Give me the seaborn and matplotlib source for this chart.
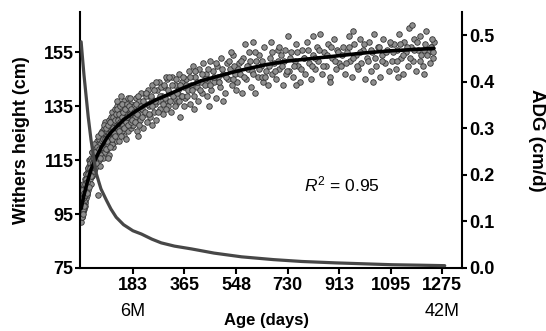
import matplotlib
matplotlib.use('Agg')
import matplotlib.pyplot as plt
import pandas as pd
import seaborn as sns

# scatter: age (days) and withers height (cm)
age_days = [
    0, 1, 2, 2, 3, 4, 5, 5, 6, 7, 8, 8, 9, 10, 10, 11, 12, 13, 14, 14, 15, 16, 17, 18, 18,
    19, 20, 21, 22, 23, 24, 25, 26, 27, 28, 28, 29, 30, 3, 6, 9, 12, 15, 18, 21, 24, 27, 30, 1, 4,
    31, 32, 33, 34, 35, 36, 37, 38, 39, 40, 41, 42, 43, 44, 45, 46, 47, 48, 49, 50, 52, 53, 54, 55,
    56, 57, 58, 59, 60, 61, 62, 64, 65, 66, 68, 69, 70, 72, 73, 75, 76, 78, 79, 80, 82, 83, 85, 86, 88, 90,
    91, 93, 94, 96, 97, 99, 100, 102, 104, 105, 107, 108, 110, 112, 113, 115, 117, 118, 120, 122,
    124, 125, 127, 129, 130, 132, 134, 136, 138, 140, 142, 144, 146, 148, 150, 152, 155, 157, 160,
    162, 165, 167, 170, 172, 175, 177, 180, 182, 95, 110, 125, 140, 160, 175,
    185, 188, 191, 195, 198, 202, 205, 208, 212, 215, 219, 222, 226, 230, 233, 237, 240, 244, 248,
    252, 256, 260, 264, 268, 272, 276, 280, 285, 290, 294, 298, 303, 308, 312, 317, 322, 327, 332,
    337, 342, 347, 352, 357, 362, 365, 200, 250, 300, 350,
    368, 372, 377, 381, 386, 390, 395, 399, 404, 408, 413, 417, 422, 426, 431, 436, 440, 445, 450,
    455, 460, 465, 470, 475, 480, 485, 490, 496, 502, 508, 514, 520, 526, 532, 538, 544, 548,
    400, 453, 500, 530,
    552, 557, 562, 568, 573, 578, 583, 588, 594, 599, 604, 609, 613, 618, 624, 630, 636, 642, 648,
    654, 660, 666, 670, 676, 682, 688, 694, 700, 706, 712, 718, 724, 730, 590, 640, 700,
    736, 742, 748, 755, 761, 767, 773, 780, 786, 792, 799, 805, 812, 818, 825, 832, 838, 843, 850,
    857, 864, 871, 878, 885, 892, 899, 906, 913, 760, 820, 880,
    919, 925, 932, 938, 945, 951, 958, 964, 971, 977, 984, 990, 997, 1003, 1010, 1016, 1023, 1029,
    1036, 1042, 1049, 1055, 1062, 1068, 1075, 1081, 1088, 1095, 960, 1030,
    1100, 1106, 1112, 1118, 1124, 1130, 1136, 1142, 1148, 1154, 1160, 1166, 1172, 1178, 1184, 1190,
    1196, 1202, 1208, 1214, 1220, 1226, 1232, 1238, 1244, 1247, 1120, 1170, 1210, 1240,
    # second pass, points closer to the fitted line
    0, 1, 2, 3, 4, 5, 6, 7, 8, 9, 11, 13, 15, 17, 19, 22, 25, 28,
    32, 35, 38, 41, 44, 47, 50, 53, 56, 59, 63, 67, 71, 74, 77, 81, 84, 87, 89,
    92, 95, 98, 101, 103, 106, 109, 111, 114, 116, 119, 121, 123, 126, 128, 131, 133, 135, 137, 139,
    141, 143, 145, 147, 149, 151, 153, 156, 158, 161, 163, 166, 168, 171, 173, 176, 178, 181,
    186, 190, 194, 197, 201, 204, 210, 214, 218, 224, 228, 235, 239, 246, 250, 258, 262, 266, 270, 278,
    282, 288, 292, 296, 301, 306, 310, 315, 320, 325, 330, 335, 340, 345, 350, 355, 360,
    370, 375, 384, 392, 402, 410, 420, 428, 438, 447, 457, 468, 478, 488, 499, 511, 523, 535, 541,
    555, 565, 575, 585, 597, 607, 616, 627, 639, 651, 663, 673, 685, 697, 709, 721, 727,
    739, 752, 764, 776, 789, 802, 815, 828, 841, 854, 868, 882, 896, 909,
    922, 935, 948, 961, 974, 987, 1000, 1013, 1026, 1039, 1052, 1065, 1078, 1091,
    1103, 1115, 1127, 1139, 1151, 1163, 1175, 1187, 1199, 1211, 1223, 1235, 1245,
]
withers_cm = [
    92, 95, 99, 101, 97, 94, 100, 103, 98, 96, 102, 105, 99, 97, 104, 101, 108, 100, 103, 106, 99,
    107, 104, 101, 110, 105, 103, 109, 106, 112, 104, 108, 111, 106, 113, 109, 107, 111, 98, 96, 100,
    103, 98, 110, 102, 112, 115, 115, 104, 103,
    108, 114, 111, 106, 116, 112, 109, 115, 113, 118, 110, 116, 113, 119, 111, 117, 114, 120, 112, 115,
    118, 121, 113, 116, 122, 114, 119, 117, 102, 121, 115, 123, 118, 113, 121, 125, 117, 122, 119, 126,
    120, 124, 116, 127, 121, 118, 125, 129, 122, 124,
    119, 126, 128, 121, 124, 130, 117, 127, 125, 131, 122, 128, 133, 120, 126, 129, 124, 134, 127, 122,
    131, 128, 135, 125, 129, 133, 122, 130, 136, 127, 132, 126, 134, 129, 124, 137, 131, 128, 135, 132,
    126, 138, 130, 133, 127, 136, 131, 134, 116, 121, 137, 139, 123, 128,
    128, 135, 131, 138, 126, 133, 137, 130, 140, 134, 127, 136, 132, 139, 129, 141, 135, 131, 138, 143,
    133, 136, 130, 141, 137, 144, 134, 139, 132, 142, 137, 145, 135, 140, 133, 146, 138, 143, 136, 141,
    147, 139, 144, 135, 142, 124, 128, 146, 131,
    138, 145, 141, 148, 136, 143, 150, 139, 146, 142, 137, 149, 144, 140, 151, 143, 147, 139, 145, 152,
    141, 148, 144, 138, 150, 146, 142, 153, 147, 140, 151, 145, 149, 143, 154, 147, 141, 134, 135, 137, 155,
    144, 151, 147, 140, 153, 158, 145, 149, 155, 142, 148, 159, 140, 152, 146, 154, 150, 144, 157, 148,
    143, 153, 159, 147, 151, 145, 156, 149, 154, 143, 152, 147, 161, 150, 146, 157,
    148, 155, 146, 152, 158, 150, 144, 156, 153, 147, 159, 151, 145, 154, 149, 157, 152, 162, 147, 155,
    150, 158, 146, 153, 160, 149, 156, 151, 143, 161, 144,
    150, 157, 147, 155, 161, 152, 146, 158, 154, 149, 160, 151, 156, 145, 153, 159, 148, 155, 162, 150,
    157, 146, 154, 160, 151, 156, 148, 158, 163, 144,
    152, 158, 149, 156, 162, 153, 147, 159, 155, 150, 164, 157, 152, 160, 148, 156, 161, 154, 150, 158,
    163, 155, 151, 157, 153, 159, 146, 165, 147, 160,
    # second pass
    96, 101, 94, 104, 99, 97, 106, 101, 95, 103, 98, 106, 102, 108, 103, 107, 110, 105,
    112, 109, 118, 114, 116, 121, 118, 114, 120, 124, 119, 116, 125, 120, 123, 128, 123, 119, 127,
    122, 128, 125, 120, 129, 126, 123, 131, 127, 125, 130, 124, 132, 127, 134, 130, 126, 132, 129, 135,
    124, 131, 136, 128, 133, 130, 127, 134, 129, 136, 131, 128, 135, 132, 138, 129, 134, 130,
    133, 129, 136, 132, 139, 128, 135, 131, 137, 133, 140, 136, 132, 139, 135, 141, 137, 144, 133, 139,
    142, 136, 143, 138, 134, 141, 146, 137, 143, 139, 135, 145, 140, 137, 143, 139, 146,
    143, 139, 146, 141, 148, 144, 141, 147, 145, 149, 143, 146, 151, 144, 149, 146, 152, 145, 150,
    149, 152, 146, 150, 152, 147, 155, 149, 152, 146, 150, 155, 148, 152, 150, 156, 148,
    153, 150, 155, 149, 153, 156, 150, 153, 156, 150, 154, 157, 152, 155,
    154, 151, 157, 153, 150, 155, 158, 152, 156, 153, 157, 152, 155, 159,
    155, 152, 158, 154, 157, 153, 156, 159, 152, 156, 154, 157, 155,
]

# fitted growth curve (left axis)
fit_age = [0, 5, 10, 18, 25, 35, 45, 53, 70, 89, 105, 124, 150, 183, 220, 266, 300, 365, 425,
           478, 548, 655, 730, 886, 1000, 1095, 1247]
fit_height = [97, 99.5, 102, 105.3, 108, 111.6, 114, 116, 119.5, 123, 125.3, 127.3, 130, 132.5,
              135, 137.5, 139, 142, 144.5, 146, 148, 150.5, 151.8, 153.5, 154.8, 155.6, 156.5]

# average daily gain curve (right axis)
adg_age = [0, 5, 10, 18, 25, 35, 45, 53, 70, 89, 105, 124, 150, 183, 213, 250, 283, 330, 390,
           470, 567, 680, 780, 900, 1000, 1100, 1200, 1285]
adg_value = [0.486, 0.45, 0.415, 0.367, 0.325, 0.275, 0.235, 0.204, 0.17, 0.146, 0.127, 0.109,
             0.093, 0.08, 0.073, 0.062, 0.054, 0.047, 0.041, 0.032, 0.024, 0.018, 0.014, 0.011,
             0.009, 0.007, 0.006, 0.005]

x_ticks = [183, 365, 548, 730, 913, 1095, 1275]
left_ticks = [75, 95, 115, 135, 155]
right_ticks = [0.0, 0.1, 0.2, 0.3, 0.4, 0.5]

sns.set_style('ticks')
plt.rcParams['font.family'] = ['Liberation Sans', 'DejaVu Sans']
plt.rcParams['mathtext.fontset'] = 'custom'
plt.rcParams['mathtext.rm'] = 'Liberation Sans'
plt.rcParams['mathtext.it'] = 'Liberation Sans:italic'
for chave in ('text.color', 'axes.labelcolor', 'xtick.color', 'ytick.color', 'axes.edgecolor'):
    plt.rcParams[chave] = 'black'

pontos = pd.DataFrame({'idade': age_days, 'altura': withers_cm})
curva = pd.DataFrame({'idade': fit_age, 'altura': fit_height})
gmd = pd.DataFrame({'idade': adg_age, 'gmd': adg_value})

fig = plt.figure(figsize=(5.46, 3.31), dpi=100)
ax = fig.add_axes([80 / 546, 63 / 331, 382 / 546, 256 / 331])

sns.scatterplot(data=pontos, x='idade', y='altura', ax=ax, s=16, color='#8e8e8e',
                edgecolor='#333333', linewidth=0.6, zorder=2)
sns.lineplot(data=curva, x='idade', y='altura', ax=ax, color='black', linewidth=2.6, zorder=3)

ax2 = ax.twinx()
sns.lineplot(data=gmd, x='idade', y='gmd', ax=ax2, color='#474747', linewidth=2.3)

ax.set_xlim(-4, 1346)
ax.set_ylim(75, 170)
ax2.set_ylim(0, 0.55)
ax.set_xticks(x_ticks)
ax.set_yticks(left_ticks)
ax2.set_yticks(right_ticks)
ax2.set_yticklabels([f'{v:.1f}' for v in right_ticks])

for a in (ax, ax2):
    a.spines['top'].set_visible(False)
    for s in a.spines.values():
        s.set_linewidth(1.5)
ax.spines['right'].set_visible(False)
ax2.spines['left'].set_visible(False)
ax2.spines['bottom'].set_visible(False)

ax.tick_params(axis='x', length=4, width=1.5, pad=2.5, labelsize=13)
ax.tick_params(axis='y', length=3.5, width=1.5, pad=1, labelsize=13)
ax2.tick_params(axis='y', length=3.5, width=1.5, pad=2, labelsize=13)
for lab in ax.get_xticklabels() + ax.get_yticklabels() + ax2.get_yticklabels():
    lab.set_fontweight('bold')

ax.set_xlabel('Age (days)', fontsize=12, fontweight='bold', va='center')
ax.xaxis.set_label_coords(0.487, -0.205)
ax.set_ylabel('Withers height (cm)', fontsize=13, fontweight='bold', va='center')
ax.yaxis.set_label_coords(-0.152, 0.5)
ax2.set_ylabel('ADG (cm/d)', fontsize=13.5, fontweight='bold', rotation=270, va='center')
ax2.yaxis.set_label_coords(1.196, 0.5)

trans = ax.get_xaxis_transform()
ax.text(183, -0.168, '6M', transform=trans, ha='center', va='center', fontsize=13)
ax.text(1275, -0.168, '42M', transform=trans, ha='center', va='center', fontsize=13)
ax.text(787, 106, r'$R^2$ = 0.95', ha='left', va='center', fontsize=12.5)

fig.savefig('out.png', dpi=100)
plt.close(fig)
